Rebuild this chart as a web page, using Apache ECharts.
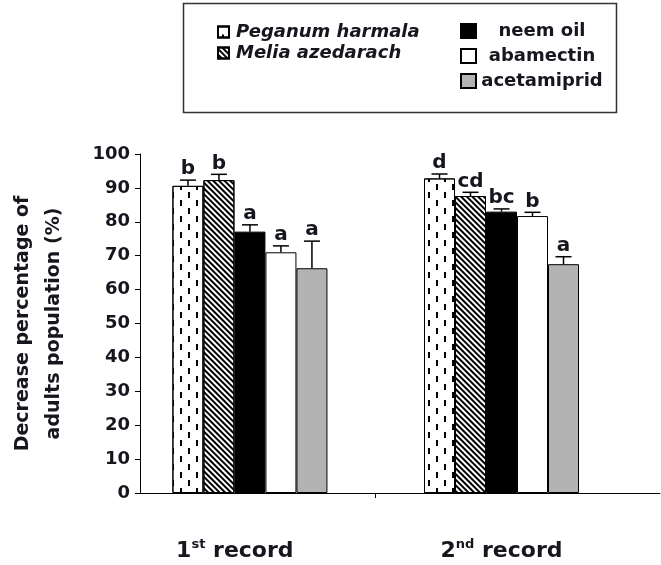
<!DOCTYPE html>
<html><head><meta charset="utf-8">
<script src="https://cdn.jsdelivr.net/npm/echarts@6/dist/echarts.min.js"></script>
<style>html,body{margin:0;padding:0;background:#fff}#c{width:661px;height:565px}</style>
</head><body><div id="c"></div>
<script>
// ---- data ----
const categories = ['1st record', '2nd record'];
const treatments = ['Peganum harmala', 'Melia azedarach', 'neem oil', 'abamectin', 'acetamiprid'];
const peganumHarmala = [90.6, 92.8];
const meliaAzedarach = [92.3, 87.6];
const neemOil = [77.1, 83.0];
const abamectin = [71.0, 81.7];
const acetamiprid = [66.3, 67.5];
const peganumErr = [1.7, 1.3];
const meliaErr = [1.7, 1.1];
const neemErr = [2.0, 0.8];
const abamectinErr = [1.9, 1.1];
const acetamipridErr = [8.0, 2.2];
const peganumLetters = ['b', 'd'];
const meliaLetters = ['b', 'cd'];
const neemLetters = ['a', 'bc'];
const abamectinLetters = ['a', 'b'];
const acetamipridLetters = ['a', 'a'];
const yTickStep = 10;

const means = [peganumHarmala, meliaAzedarach, neemOil, abamectin, acetamiprid];
const errs = [peganumErr, meliaErr, neemErr, abamectinErr, acetamipridErr];
const letters = [peganumLetters, meliaLetters, neemLetters, abamectinLetters, acetamipridLetters];

// ---- styles ----
const FONT = '"DejaVu Sans", sans-serif';
const TXT = '#16161f';
const BAR_W = 31;
const dashDecal = {symbol: 'rect', symbolSize: 1, color: '#000', dashArrayX: [[0, 4, 2, 10], [0, 12, 2, 2]], dashArrayY: [6, 2], rotation: 0};
const hatchDecal = {symbol: 'rect', symbolSize: 1, color: '#000', dashArrayX: [1, 0], dashArrayY: [1.5, 1.5], rotation: Math.PI / 4};
const fills = ['#ffffff', '#ffffff', '#000000', '#ffffff', '#b3b3b3'];
const decals = [dashDecal, hatchDecal, null, null, null];

const barSeries = treatments.map((name, i) => ({
  type: 'bar', name: name,
  data: means[i].map((v, j) => [j + 1, v]),
  barWidth: BAR_W, barGap: '0%',
  itemStyle: Object.assign({color: fills[i], borderColor: '#000', borderWidth: 1}, decals[i] ? {decal: decals[i]} : {}),
  emphasis: {disabled: true}, z: 2
}));

const errSeries = treatments.map((name, i) => ({
  type: 'custom', name: 'err-' + name, z: 5, silent: true,
  data: means[i].map((v, j) => [j + 1, v, errs[i][j]]),
  encode: {x: 0, y: 1},
  renderItem: function (params, api) {
    const xv = api.value(0), m = api.value(1), e = api.value(2);
    const b = api.coord([xv, m]);
    const t = api.coord([xv, m + e]);
    const x = b[0] + (i - 2) * BAR_W;
    return {type: 'group', children: [
      {type: 'line', shape: {x1: x, y1: b[1], x2: x, y2: t[1]}, style: {stroke: '#000', lineWidth: 1.5}},
      {type: 'line', shape: {x1: x - 8, y1: t[1], x2: x + 8, y2: t[1]}, style: {stroke: '#000', lineWidth: 1.5}},
      {type: 'text', x: x, y: t[1] - 1, style: {text: letters[i][params.dataIndex], fill: TXT, font: 'bold 20px ' + FONT, textAlign: 'center', textVerticalAlign: 'bottom'}}
    ]};
  }
}));

function catLabel(value) {
  const name = categories[Math.round(value) - 1] || '';
  const m = name.match(/^(\d+)(st|nd|rd|th)(.*)$/);
  return m ? '{a|' + m[1] + '}{s|' + m[2] + '}{a|' + m[3] + '}' : '{a|' + name + '}';
}

const chart = echarts.init(document.getElementById('c'));
chart.setOption({
  animation: false,
  backgroundColor: '#fff',
  grid: {left: 140, right: 1, top: 154, bottom: 72, outerBoundsMode: 'none', containLabel: false},
  xAxis: {
    type: 'value', min: 0.563, max: 2.63,
    axisLine: {show: true, onZero: false, lineStyle: {color: '#000', width: 1}},
    splitLine: {show: false},
    axisTick: {show: true, customValues: [1.5], length: 5, lineStyle: {color: '#000'}},
    axisLabel: {
      customValues: [0.94, 2], margin: 45, formatter: catLabel,
      rich: {
        a: {fontFamily: FONT, fontWeight: 'bold', fontSize: 22, lineHeight: 26, color: TXT},
        s: {fontFamily: FONT, fontWeight: 'bold', fontSize: 13, lineHeight: 14, verticalAlign: 'top', color: TXT}
      }
    }
  },
  yAxis: {
    type: 'value', min: 0, max: 100, interval: yTickStep,
    axisLine: {show: true, onZero: false, lineStyle: {color: '#000', width: 1}},
    axisTick: {show: true, length: 5, lineStyle: {color: '#000'}},
    splitLine: {show: false},
    axisLabel: {fontFamily: FONT, fontWeight: 'bold', fontSize: 18, color: TXT, margin: 10},
    name: 'Decrease percentage of\nadults population (%)',
    nameLocation: 'middle', nameRotate: 90, nameGap: 70,
    nameTextStyle: {fontFamily: FONT, fontWeight: 'bold', fontSize: 19, lineHeight: 31, color: TXT}
  },
  legend: [
    {
      data: treatments.slice(0, 2), left: 212, top: 18, orient: 'vertical', icon: 'rect',
      itemWidth: 11, itemHeight: 11, itemGap: 3, selectedMode: false,
      formatter: n => '{t|' + n + '}',
      textStyle: {rich: {t: {fontFamily: FONT, fontSize: 18, fontWeight: 'bold', fontStyle: 'italic', lineHeight: 20, padding: [0, 0, 0, 2], color: TXT}}}
    },
    {
      data: treatments.slice(2), left: 455, top: 17, orient: 'vertical', icon: 'rect',
      itemWidth: 15, itemHeight: 14, itemGap: 7, selectedMode: false,
      formatter: n => '{t|' + n + '}',
      textStyle: {rich: {t: {fontFamily: FONT, fontSize: 18, fontWeight: 'bold', lineHeight: 22, width: 122, align: 'center', color: TXT}}}
    }
  ],
  graphic: [{type: 'rect', silent: true, shape: {x: 183.5, y: 3.5, width: 433, height: 109}, style: {fill: 'none', stroke: '#333', lineWidth: 1.5}}],
  series: barSeries.concat(errSeries)
});
</script></body></html>
